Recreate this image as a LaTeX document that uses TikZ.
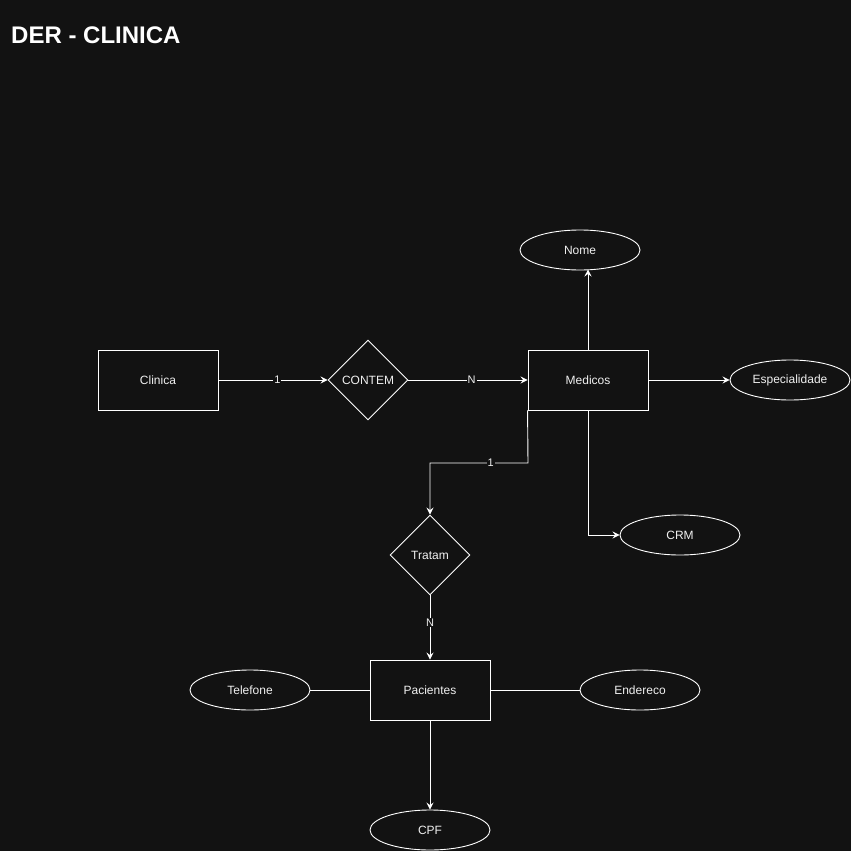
\documentclass[tikz,border=0pt]{standalone}
\usepackage{fontspec}
\setmainfont{Liberation Sans}
\usetikzlibrary{arrows.meta,shapes.geometric}
\definecolor{bg}{HTML}{121212}
\definecolor{fg}{HTML}{F0F0F0}
\begin{document}
\begin{tikzpicture}[x=1pt,y=-1pt,
  every node/.style={text=fg,font=\fontsize{12}{14}\selectfont},
  entity/.style={draw=white,line width=0.9pt,minimum width=120pt,minimum height=60pt,inner sep=0pt},
  rel/.style={draw=white,line width=0.9pt,diamond,minimum width=80pt,minimum height=80pt,inner sep=0pt,aspect=1},
  attr/.style={draw=white,line width=0.9pt,ellipse,minimum width=120pt,minimum height=40pt,inner sep=0pt},
  conn/.style={draw=white,line width=0.9pt},
  arr/.style={conn,-{Stealth[length=7pt,width=7pt,inset=2.5pt]}},
  lbl/.style={fill=bg,inner sep=1pt,font=\fontsize{11}{13}\selectfont}]
\fill[bg] (0,0) rectangle (851,851);
\useasboundingbox (0,0) rectangle (851,851);
\node[anchor=base west,inner sep=0pt,font=\bfseries\fontsize{24}{28}\selectfont,text=white] (title) at (11,44) {DER - CLINICA};
\node[entity] (clinica) at (158,380) {Clinica};
\node[rel] (contem) at (368,380) {CONTEM};
\node[entity] (medicos) at (588,380) {Medicos};
\node[attr] (esp) at (790,380) {Especialidade};
\node[attr] (nome) at (580,250) {Nome};
\node[attr] (crm) at (680,535) {CRM};
\node[rel] (tratam) at (430,555) {Tratam};
\node[entity] (pac) at (430,690) {Pacientes};
\node[attr] (tel) at (250,690) {Telefone};
\node[attr] (end) at (640,690) {Endereco};
\node[attr] (cpf) at (430,830) {CPF};
\coordinate (nomehit) at (588,269.5);
\draw[arr] (clinica.east) -- node[lbl,pos=0.54] {1} (contem.west);
\draw[arr] (contem.east) -- node[lbl,pos=0.53] {N} (medicos.west);
\draw[arr] (medicos.east) -- (esp.west);
\draw[arr] (medicos.north) -- (nomehit);
\draw[arr] (medicos.south) |- (crm.west);
\draw[arr] (medicos.south west) -- (528,463) -- node[lbl,pos=0.38] {1} (430,463) -- (tratam.north);
\draw[arr] (tratam.south) -- node[lbl,pos=0.42] {N} (pac.north);
\draw[conn] (pac.west) -- (tel.east);
\draw[conn] (pac.east) -- (end.west);
\draw[arr] (pac.south) -- (cpf.north);
\end{tikzpicture}
\end{document}
